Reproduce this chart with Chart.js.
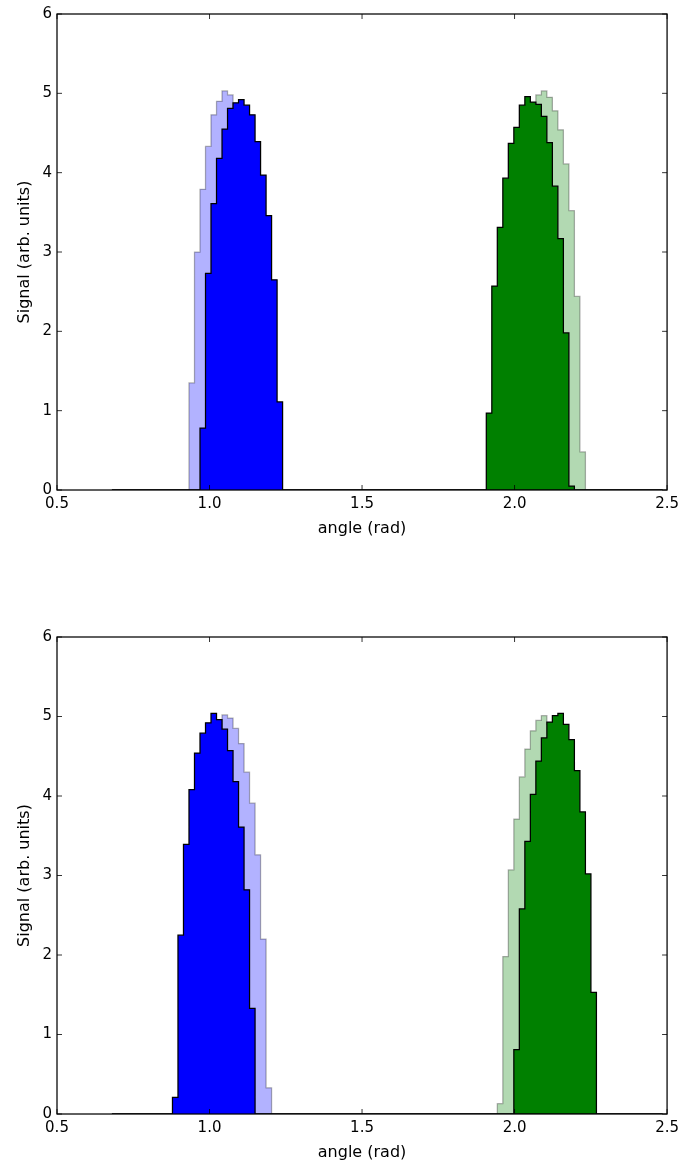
<!DOCTYPE html>
<html><head><meta charset="utf-8">
<script src="https://cdn.jsdelivr.net/npm/chart.js@4.4.0/dist/chart.umd.min.js"></script>
<style>
html,body{margin:0;padding:0;background:#fff;}
body{width:684px;height:1165px;position:relative;overflow:hidden;}
canvas{position:absolute;left:0;}
#c1{top:0;}
#c2{top:560px;}
</style></head><body>
<canvas id="c1" width="684" height="560"></canvas>
<canvas id="c2" width="684" height="605"></canvas>
<script>
// ---- histogram binning (x axis structure) ----
const BIN_START = 0.680;
const BIN_WIDTH = 0.01805;
const BIN_COUNT = 100;

// ---- tick labels / axis titles ----
const xTicks = [0.5, 1.0, 1.5, 2.0, 2.5];
const yTicks = [0, 1, 2, 3, 4, 5, 6];
const xLabel = 'angle (rad)';
const yLabel = 'Signal (arb. units)';

// ---- top panel ----
const topBlueLightFirstBin = 14;
const topBlueLight = [1.35, 3.00, 3.79, 4.33, 4.73, 4.90, 5.03, 4.98, 4.80, 4.65, 4.35, 3.95, 3.40, 2.70, 1.10];
const topBlueFirstBin = 16;
const topBlue = [0.78, 2.73, 3.61, 4.18, 4.55, 4.81, 4.88, 4.92, 4.85, 4.73, 4.39, 3.97, 3.46, 2.65, 1.11];
const topGreenLightFirstBin = 70;
const topGreenLight = [0.90, 2.50, 3.30, 3.85, 4.30, 4.55, 4.80, 4.98, 5.03, 4.95, 4.78, 4.54, 4.11, 3.52, 2.44, 0.48];
const topGreenFirstBin = 68;
const topGreen = [0.97, 2.57, 3.31, 3.93, 4.37, 4.57, 4.85, 4.96, 4.89, 4.86, 4.71, 4.38, 3.83, 3.17, 1.98, 0.05];

// ---- bottom panel ----
const botBlueLightFirstBin = 14;
const botBlueLight = [0.25, 2.20, 3.35, 4.05, 4.50, 4.80, 5.02, 4.98, 4.85, 4.66, 4.30, 3.91, 3.26, 2.20, 0.33];
const botBlueFirstBin = 11;
const botBlue = [0.21, 2.25, 3.39, 4.08, 4.54, 4.79, 4.92, 5.04, 4.96, 4.84, 4.57, 4.18, 3.61, 2.82, 1.33];
const botGreenLightFirstBin = 70;
const botGreenLight = [0.13, 1.98, 3.07, 3.71, 4.24, 4.59, 4.82, 4.95, 5.01, 4.90, 4.78, 4.50, 4.10, 3.50, 2.50];
const botGreenFirstBin = 73;
const botGreen = [0.81, 2.58, 3.43, 4.02, 4.44, 4.73, 4.93, 5.01, 5.04, 4.90, 4.71, 4.32, 3.80, 3.02, 1.53];

Chart.defaults.font.family = "'DejaVu Sans', sans-serif";
Chart.defaults.color = '#000';

function edge(i) { return BIN_START + i * BIN_WIDTH; }
function histPoints(firstBin, values) {
  const pts = [{x: edge(0), y: 0}];
  values.forEach((v, k) => pts.push({x: edge(firstBin + k), y: v}));
  pts.push({x: edge(firstBin + values.length), y: 0});
  pts.push({x: edge(BIN_COUNT), y: 0});
  return pts;
}
function ds(points, fill, edgeCol) {
  return {
    data: points, stepped: 'before', fill: 'origin',
    backgroundColor: fill, borderColor: edgeCol, borderWidth: 1.25,
    pointRadius: 0, tension: 0
  };
}

const framePlugin = {
  id: 'frame',
  afterDatasetsDraw(chart) {
    const {ctx, chartArea: a} = chart;
    const x = chart.scales.x, y = chart.scales.y;
    const L = 5;
    ctx.save();
    ctx.strokeStyle = '#000';
    ctx.lineWidth = 0.8;
    ctx.beginPath();
    xTicks.forEach(t => {
      const p = x.getPixelForValue(t);
      ctx.moveTo(p, a.bottom); ctx.lineTo(p, a.bottom - L);
      ctx.moveTo(p, a.top); ctx.lineTo(p, a.top + L);
    });
    yTicks.forEach(t => {
      const p = y.getPixelForValue(t);
      ctx.moveTo(a.left, p); ctx.lineTo(a.left + L, p);
      ctx.moveTo(a.right, p); ctx.lineTo(a.right - L, p);
    });
    ctx.stroke();
    ctx.lineWidth = 1.25;
    ctx.strokeRect(a.left, a.top, a.right - a.left, a.bottom - a.top);
    ctx.restore();
  }
};

function makeChart(id, datasets, g) {
  return new Chart(document.getElementById(id), {
    type: 'line',
    data: {datasets},
    plugins: [framePlugin],
    options: {
      responsive: false, animation: false, devicePixelRatio: 1,
      layout: {padding: {top: g.top, right: 16, left: 0, bottom: 0}},
      plugins: {legend: {display: false}, tooltip: {enabled: false}},
      scales: {
        x: {
          type: 'linear', min: xTicks[0], max: xTicks[xTicks.length - 1],
          afterBuildTicks: s => { s.ticks = xTicks.map(v => ({value: v})); },
          ticks: {font: {size: 15}, padding: 5, maxRotation: 0, autoSkip: false,
                  callback: v => Number(v).toFixed(1)},
          grid: {display: false, drawTicks: false},
          border: {display: false},
          title: {display: true, text: xLabel, font: {size: 16}, padding: {top: 0, bottom: g.xTitlePad}},
          afterFit: s => { s.height = g.xAxisH; }
        },
        y: {
          type: 'linear', min: yTicks[0], max: yTicks[yTicks.length - 1],
          afterBuildTicks: s => { s.ticks = yTicks.map(v => ({value: v})); },
          ticks: {font: {size: 15}, padding: 5, autoSkip: false, callback: v => String(v)},
          grid: {display: false, drawTicks: false},
          border: {display: false},
          title: {display: true, text: yLabel, font: {size: 16}, padding: {top: 15, bottom: 0}},
          afterFit: s => { s.width = 57; }
        }
      }
    }
  });
}

const LB = 'rgba(0,0,255,0.3)', DB = '#0000ff';
const LG = 'rgba(0,128,0,0.3)', DG = '#008000';
const LE = 'rgba(0,0,0,0.3)', DE = '#000';

makeChart('c1', [
  ds(histPoints(topBlueFirstBin, topBlue), DB, DE),
  ds(histPoints(topGreenFirstBin, topGreen), DG, DE),
  ds(histPoints(topBlueLightFirstBin, topBlueLight), LB, LE),
  ds(histPoints(topGreenLightFirstBin, topGreenLight), LG, LE)
], {top: 13, xAxisH: 70, xTitlePad: 22});

makeChart('c2', [
  ds(histPoints(botBlueFirstBin, botBlue), DB, DE),
  ds(histPoints(botGreenFirstBin, botGreen), DG, DE),
  ds(histPoints(botBlueLightFirstBin, botBlueLight), LB, LE),
  ds(histPoints(botGreenLightFirstBin, botGreenLight), LG, LE)
], {top: 77, xAxisH: 51, xTitlePad: 3});
</script>
</body></html>
